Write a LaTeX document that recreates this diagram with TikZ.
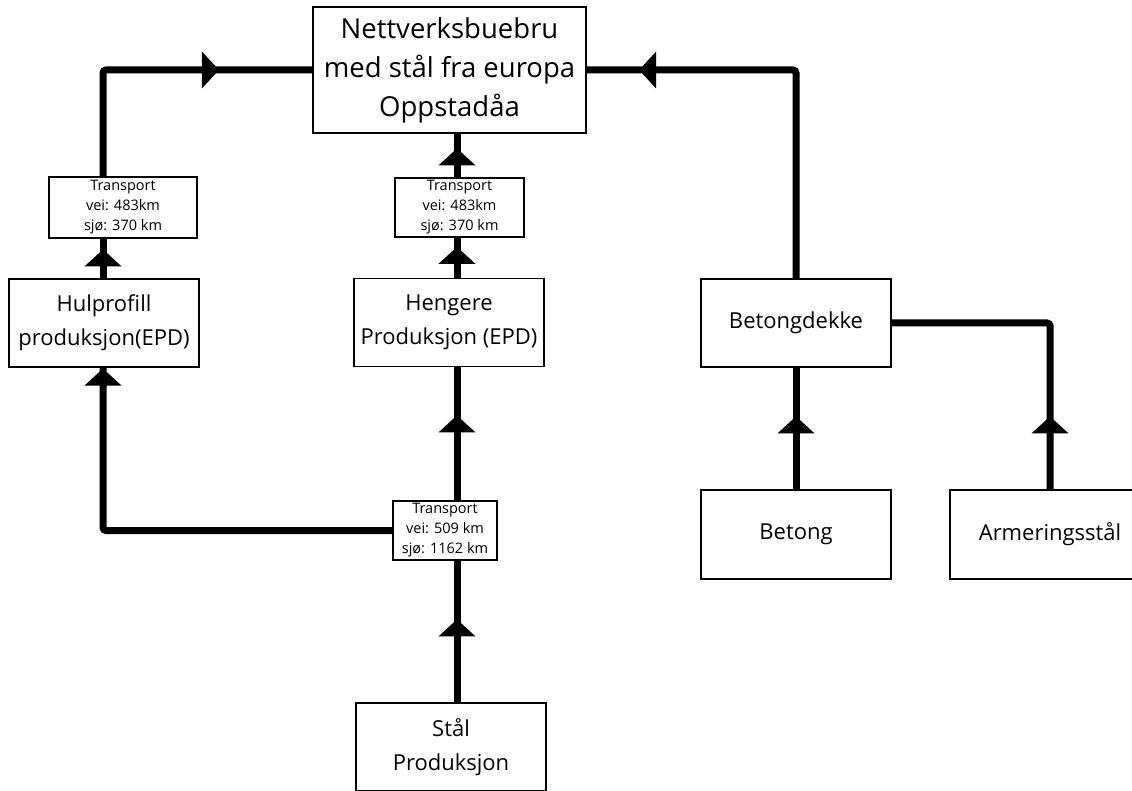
\documentclass[tikz,border=0pt]{standalone}
\usepackage{fontspec}
\setmainfont{Open Sans}
\usetikzlibrary{decorations.markings}
\begin{document}
\begin{tikzpicture}[x=1pt,y=-1pt,
  box/.style 2 args={draw=black, line width=1.2pt, fill=white, inner sep=0pt,
    minimum width=#1, minimum height=#2, align=center},
  mainfont/.style={font={\fontsize{22pt}{34pt}\selectfont}},
  titlefont/.style={font={\fontsize{27.5pt}{39pt}\selectfont}},
  smallfont/.style={font={\fontsize{14.5pt}{20pt}\selectfont}},
  flow/.style={line width=7pt, rounded corners=3pt},
  tipat/.style={postaction={decorate, decoration={markings,
    mark=at position #1 with {\fill[sharp corners] (0pt,0pt) -- (-17pt,18.5pt) -- (-17pt,-18.5pt) -- cycle;}}}}
]
\useasboundingbox (0,0) rectangle (1132,791);
\clip (0,0) rectangle (1132,791);

% boxes
\node[box={273pt}{126pt}, titlefont] (top) at (449.5,70) {Nettverksbuebru\\med stål fra europa\\Oppstadåa};
\node[box={148pt}{61pt}, smallfont] (t1) at (123,207.5) {Transport\\vei: 483km\\sjø: 370 km};
\node[box={129pt}{59pt}, smallfont] (t2) at (459.5,207.5) {Transport\\vei: 483km\\sjø: 370 km};
\node[box={104pt}{59pt}, smallfont] (t3) at (445,530.5) {Transport\\vei: 509 km\\sjø: 1162 km};
\node[box={190pt}{88pt}, mainfont] (hul) at (104,323) {Hulprofill\\produksjon(EPD)};
\node[box={190pt}{88pt}, mainfont] (heng) at (449,322.5) {Hengere\\Produksjon (EPD)};
\node[box={190pt}{88pt}, mainfont] (bd) at (796,323) {Betongdekke};
\node[box={190pt}{89pt}, mainfont] (betong) at (796,534.5) {Betong};
\node[box={200pt}{89pt}, mainfont] (arm) at (1050,534.5) {Armeringsstål};
\node[box={190pt}{88pt}, mainfont] (stal) at (451,747) {Stål\\Produksjon};

% guide lines for the vertical runs
\coordinate (leftline) at (103,0);
\coordinate (midline) at (457,0);

% left branch
\draw[flow, tipat=29pt] (hul.north -| leftline) -- (t1.south -| leftline);
\draw[flow, tipat=221pt] (t1.north -| leftline) |- (top.west);
\draw[flow, tipat=-1pt] (t3.west) -| (hul.south -| leftline);

% middle branch
\draw[flow, tipat=83pt] (stal.north -| midline) -- (t3.south -| midline);
\draw[flow, tipat=85pt] (t3.north -| midline) -- (heng.south -| midline);
\draw[flow, tipat=31pt] (heng.north -| midline) -- (t2.south -| midline);
\draw[flow, tipat=29pt] (t2.north -| midline) -- (top.south -| midline);

% right branch
\draw[flow, tipat=73pt] (betong.north) -- (bd.south);
\draw[flow, tipat=73pt] (arm.north) |- (bd.east);
\draw[flow, tipat=364pt] (bd.north) |- (top.east);
\end{tikzpicture}
\end{document}
